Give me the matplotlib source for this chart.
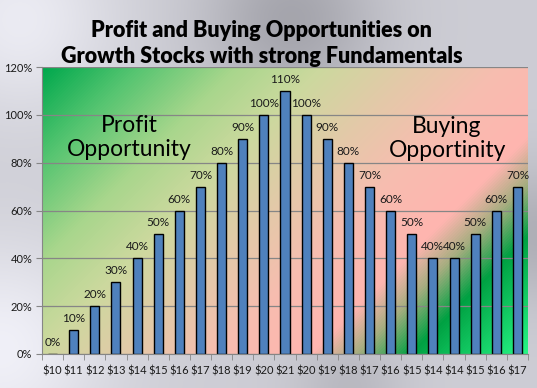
import numpy as np
import matplotlib
matplotlib.use("Agg")
import matplotlib.pyplot as plt
from matplotlib.colors import LinearSegmentedColormap
from matplotlib.ticker import FixedLocator, PercentFormatter

prices = ["$10", "$11", "$12", "$13", "$14", "$15", "$16", "$17", "$18", "$19",
          "$20", "$21", "$20", "$19", "$18", "$17", "$16", "$15", "$14", "$14",
          "$15", "$16", "$17"]
pct = [0, 10, 20, 30, 40, 50, 60, 70, 80, 90, 100, 110, 100, 90, 80, 70, 60,
       50, 40, 40, 50, 60, 70]

plt.rcParams['font.family'] = ['Lato', 'DejaVu Sans']

fig = plt.figure(figsize=(5.37, 3.88), dpi=100)

# metallic grey backdrop
bg = fig.add_axes([0, 0, 1, 1], zorder=-10)
yy, xx = np.mgrid[0:388, 0:537] / 388.0
g = 205 - 40 * np.exp(-((xx - 0.75) ** 2 + (yy - 0.05) ** 2) / 0.05) \
    + 35 * np.exp(-((xx - 0.0) ** 2 + (yy - 0.9) ** 2) / 0.08) \
    + 30 * np.exp(-((xx - 0.05) ** 2 + (yy - 0.05) ** 2) / 0.06) \
    - 30 * np.exp(-((xx - 1.38) ** 2 + (yy - 0.6) ** 2) / 0.03) \
    - 20 * np.exp(-((xx - 0.9) ** 2 + (yy - 1.0) ** 2) / 0.02)
g = np.clip(g, 0, 255) / 255.0
rgb = np.dstack([g, g, np.clip(g + 0.03, 0, 1)])
bg.imshow(rgb, extent=(0, 1, 0, 1), aspect='auto', origin='upper')
bg.axis('off')

ax = fig.add_axes([42 / 537, 34 / 388, 486 / 537, 287 / 388])

# diagonal plot-area gradient
cmap = LinearSegmentedColormap.from_list("area", [
    (0.00, (0.00, 0.66, 0.30)),
    (0.12, (0.33, 0.77, 0.44)),
    (0.25, (0.66, 0.84, 0.55)),
    (0.36, (0.80, 0.85, 0.62)),
    (0.48, (0.89, 0.79, 0.66)),
    (0.60, (0.97, 0.74, 0.69)),
    (0.72, (1.00, 0.71, 0.69)),
    (0.78, (0.65, 0.68, 0.50)),
    (0.85, (0.00, 0.63, 0.26)),
    (1.00, (0.15, 0.96, 0.52)),
])
py, px = np.mgrid[0:287, 0:486]
s = (px + py) / (486 + 287)
n = len(pct)
ax.imshow(s, cmap=cmap, extent=(-0.5, n - 0.5, 0, 120), aspect='auto',
          origin='upper', zorder=0)

x = np.arange(n)
ax.bar(x, pct, width=0.43, color='#4f81bd', edgecolor='black', linewidth=1.0,
       zorder=3)
for xi, v in zip(x, pct):
    ax.text(xi, v + 2.5, f"{v}%", ha='center', va='bottom', fontsize=8.5,
            color='#1a1a1a', zorder=4)

ax.set_xlim(-0.5, n - 0.5)
ax.set_ylim(0, 120)
ax.set_yticks(range(0, 121, 20))
ax.yaxis.set_major_formatter(PercentFormatter(decimals=0))
ax.set_xticks(x)
ax.set_xticklabels(prices)
ax.xaxis.set_minor_locator(FixedLocator(np.arange(-0.5, n, 1)))
ax.tick_params(axis='x', which='major', length=0, pad=8, labelsize=8,
               labelcolor='#1a1a1a')
ax.tick_params(axis='x', which='minor', length=4, color='#868686')
ax.tick_params(axis='y', length=4, color='#868686', labelsize=8,
               labelcolor='#1a1a1a', pad=3)
ax.grid(axis='y', color='#868686', linewidth=0.9, zorder=1)
ax.set_axisbelow(False)
for side in ['top', 'right']:
    ax.spines[side].set_visible(False)
for side in ['left', 'bottom']:
    ax.spines[side].set_color('#868686')
    ax.spines[side].set_zorder(5)

ax.text(3.62, 90.5, "Profit\nOpportunity", ha='center', va='center',
        fontsize=16.5, linespacing=1.2, color='black', zorder=4)
ax.text(18.67, 90, "Buying\nOpportinity", ha='center', va='center',
        fontsize=16.5, linespacing=1.2, color='black', zorder=4)

fig.text(0.487, 0.888, "Profit and Buying Opportunities on\n"
         "Growth Stocks with strong Fundamentals", ha='center', va='center',
         fontsize=15.5, fontweight='heavy', linespacing=1.3)

fig.savefig("out.png", dpi=100)
